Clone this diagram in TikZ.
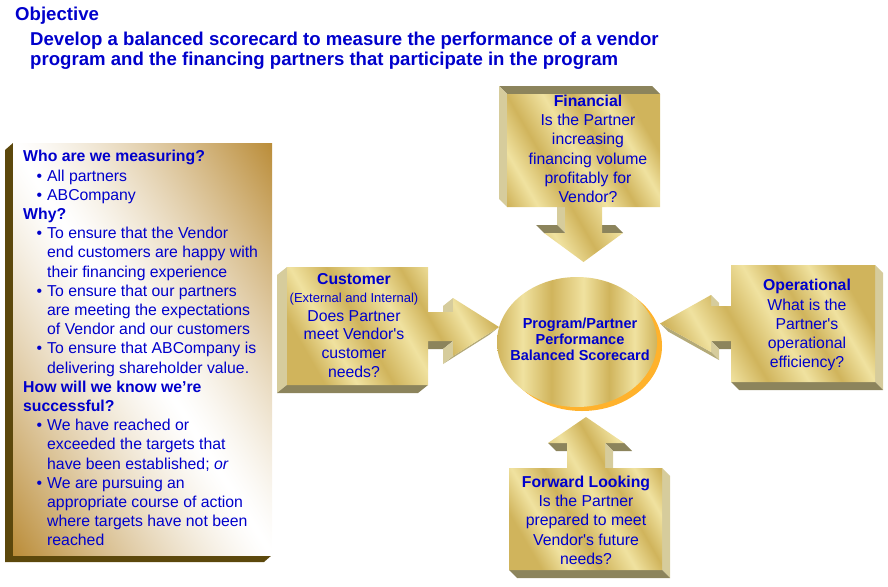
\documentclass[tikz,border=0pt]{standalone}
\usepackage{fontspec}
\setmainfont{Liberation Sans}
\usepackage{xcolor}
\usepackage{tikz}

\definecolor{ink}{RGB}{0,0,204}
\definecolor{goldA}{RGB}{208,180,92}
\definecolor{goldB}{RGB}{240,226,160}
\definecolor{sidedk}{RGB}{140,132,92}
\definecolor{sidelt}{RGB}{214,204,156}
\definecolor{sidemd}{RGB}{180,170,120}
\definecolor{boxedge}{RGB}{92,72,12}
\definecolor{rim}{RGB}{255,178,44}

\pgfdeclarehorizontalshading{metal}{100bp}{color(0bp)=(goldA); color(25bp)=(goldA);
  color(33bp)=(goldB); color(42bp)=(goldA); color(52bp)=(goldB); color(60bp)=(goldA);
  color(68bp)=(goldB); color(75bp)=(goldA); color(100bp)=(goldA)}
% white along the falling diagonal, gold in the upper right and lower left corners
\pgfdeclarefunctionalshading{sheen}{\pgfpoint{-50bp}{-50bp}}{\pgfpoint{50bp}{50bp}}{}{%
  add 50 div abs dup 1 gt {pop 1} if 1.3 exp
  dup dup 0.27 mul 1 exch sub 3 1 roll 0.45 mul 1 exch sub exch 0.78 mul 1 exch sub}

\newcommand\extrude[2]{%
  \foreach \a/\b/\s in {#2}
    \fill[fill=\s] (\a) -- (\b) -- ([shift={#1}]\b) -- ([shift={#1}]\a) -- cycle;}
\newcommand\bul{\makebox[24pt][r]{\textbullet\hspace{5pt}}}
\newcommand\ind{\hspace*{24pt}}

\begin{document}
\begin{tikzpicture}[x=1pt, y=-1pt,
  txt/.style={text=ink, inner sep=0pt, align=center, font=\fontsize{15.8}{19.2}\selectfont},
  head/.style={font=\bfseries\fontsize{18.6}{20}\selectfont},
  face/.style={shading=metal, shading angle=30}
]
\useasboundingbox (0,0) rectangle (888,586);

\node[txt, head, anchor=base west] (obj) at (15,20.7) {Objective};
\node[txt, head, anchor=north west, align=left] (goal) at (30,31.4)
  {Develop a balanced scorecard to measure the performance of a vendor\\
   program and the financing partners that participate in the program};

\fill[boxedge] (13,143) -- (5,150) -- (5,562) -- (264,562) -- (272,555) -- (13,555) -- cycle;
\shade[shading=sheen] (13,143) rectangle (272,555);
\node[txt, anchor=north west, align=left] (who) at (23,150.2)
  {\textbf{Who are we measuring?}\\
   \bul All partners\\
   \bul ABCompany\\
   \textbf{Why?}\\
   \bul To ensure that the Vendor\\
   \ind end customers are happy with\\
   \ind their financing experience\\
   \bul To ensure that our partners\\
   \ind are meeting the expectations\\
   \ind of Vendor and our customers\\
   \bul To ensure that ABCompany is\\
   \ind delivering shareholder value.\\
   \textbf{How will we know we’re}\\
   \textbf{successful?}\\
   \bul We have reached or\\
   \ind exceeded the targets that\\
   \ind have been established; \textit{or}\\
   \bul We are pursuing an\\
   \ind appropriate course of action\\
   \ind where targets have not been\\
   \ind reached};

\fill[rim] (582,346) ellipse [x radius=80, y radius=65];
\shade[shading=metal, shading angle=0] (577,342) ellipse [x radius=80, y radius=65];
\node[txt, anchor=north, font=\bfseries\fontsize{14.5}{16.2}\selectfont] (bsc) at (580,317.7)
  {Program/Partner\\Performance\\Balanced Scorecard};

\foreach \x/\y [count=\n] in {507/94, 660/94, 660/207, 602/207, 602/233, 623/233,
    583.5/262, 544/233, 565/233, 565/207, 507/207}
  \coordinate (fi\n) at (\x,\y);
\extrude{(-8,-8)}{fi1/fi2/sidedk, fi11/fi1/sidelt, fi9/fi10/sidelt, fi8/fi9/sidedk, fi5/fi6/sidedk}
\shade[face] (fi1) \foreach \n in {2,...,11} {-- (fi\n)} -- cycle;
\node[txt, anchor=north] (fin) at (588,94.8)
  {\textbf{Financial}\\Is the Partner\\increasing\\financing volume\\profitably for\\Vendor?};

\foreach \x/\y [count=\n] in {287/267, 428/267, 428/312, 453/312, 453/298, 499/327,
    453/356, 453/341, 428/341, 428/385, 287/385}
  \coordinate (cu\n) at (\x,\y);
\extrude{(-10,8)}{cu11/cu1/sidelt, cu10/cu11/sidedk, cu8/cu9/sidedk, cu6/cu7/sidemd,
  cu4/cu5/sidelt, cu7/cu8/sidelt}
\shade[face] (cu1) \foreach \n in {2,...,11} {-- (cu\n)} -- cycle;
\node[txt, anchor=north, font=\fontsize{15.8}{18.6}\selectfont] (cust) at (354,272.8)
  {\textbf{Customer}\\{\fontsize{13}{18.6}\selectfont(External and Internal)}\\
   Does Partner\\meet Vendor\textquotesingle s\\customer\\needs?};

\foreach \x/\y [count=\n] in {731/265, 875/265, 875/382, 731/382, 731/341, 711/341,
    711/352, 660/323.5, 711/295, 711/306, 731/306}
  \coordinate (op\n) at (\x,\y);
\extrude{(8,8)}{op2/op3/sidelt, op3/op4/sidedk, op5/op6/sidedk, op9/op10/sidelt,
  op6/op7/sidelt, op7/op8/sidemd}
\shade[face] (op1) \foreach \n in {2,...,11} {-- (op\n)} -- cycle;
\node[txt, anchor=north] (oper) at (807,279.2)
  {\textbf{Operational}\\What is the\\Partner\textquotesingle s\\operational\\efficiency?};

\foreach \x/\y [count=\n] in {509/468, 567/468, 567/443, 548/443, 586/417, 624/443,
    605/443, 605/468, 662/468, 662/570, 509/570}
  \coordinate (fw\n) at (\x,\y);
\extrude{(8,8)}{fw9/fw10/sidelt, fw10/fw11/sidedk, fw3/fw4/sidedk, fw6/fw7/sidedk,
  fw7/fw8/sidelt}
\shade[face] (fw1) \foreach \n in {2,...,11} {-- (fw\n)} -- cycle;
\node[txt, anchor=north] (fwd) at (586,475.8)
  {\textbf{Forward Looking}\\Is the Partner\\prepared to meet\\Vendor\textquotesingle s future\\needs?};
\end{tikzpicture}
\end{document}
